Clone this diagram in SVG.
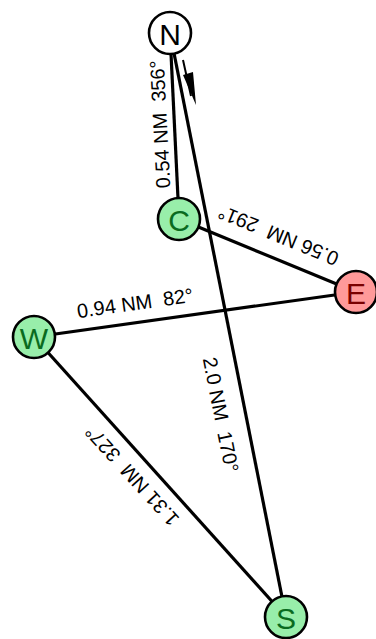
<svg xmlns="http://www.w3.org/2000/svg" width="376" height="639" viewBox="0 0 376 639">
<defs>
<style>
.edge{stroke:#000;stroke-width:3.2;fill:none}
.lbl{font-family:"Liberation Sans",Arial,sans-serif;font-size:20px;fill:#000;text-anchor:middle;white-space:pre}
.nc{stroke:#000;stroke-width:2.6}
.nt{font-family:"Liberation Sans",Arial,sans-serif;font-size:30px;text-anchor:middle;dominant-baseline:central}
.g circle{fill:#98eeaa}
.g text{fill:#0a6b1f}
</style>
</defs>
<rect width="376" height="639" fill="#fff"/>
<g id="connectors">
<line class="edge" x1="170" y1="33" x2="179" y2="219"/>
<line class="edge" x1="170" y1="33" x2="286" y2="617"/>
<line class="edge" x1="179" y1="219" x2="356" y2="292"/>
<line class="edge" x1="34" y1="337" x2="356" y2="292"/>
<line class="edge" x1="34" y1="337" x2="286" y2="617"/>
<path d="M183,60 L191,96" stroke="#000" stroke-width="2"/>
<path d="M183,75 L193,72 L196,105 z" fill="#000"/>
<text class="lbl" xml:space="preserve" transform="translate(167,124) rotate(-93)">0.54 NM  356°</text>
<text class="lbl" xml:space="preserve" transform="translate(281,229) rotate(202.4)">0.56 NM  291°</text>
<text class="lbl" xml:space="preserve" transform="translate(136,310) rotate(-8)">0.94 NM  82°</text>
<text class="lbl" xml:space="preserve" transform="translate(137,471) rotate(227.6)">1.31 NM  327°</text>
<text class="lbl" xml:space="preserve" transform="translate(214,416) rotate(78.8)">2.0 NM  170°</text>
</g>
<g id="N"><circle class="nc" cx="170" cy="33" r="21" fill="#fff"/><text class="nt" x="170" y="34">N</text></g>
<g id="C" class="g"><circle class="nc" cx="179" cy="219" r="21"/><text class="nt" x="179" y="220">C</text></g>
<g id="E"><circle class="nc" cx="356" cy="292" r="21" fill="#ff9999"/><text class="nt" x="356" y="293" fill="#7a0000">E</text></g>
<g id="W" class="g"><circle class="nc" cx="34" cy="337" r="21"/><text class="nt" x="34" y="338">W</text></g>
<g id="S" class="g"><circle class="nc" cx="286" cy="617" r="21"/><text class="nt" x="286" y="618">S</text></g>
</svg>
